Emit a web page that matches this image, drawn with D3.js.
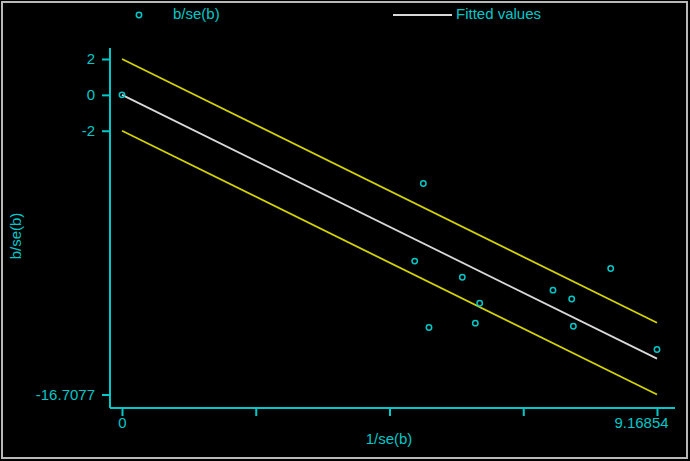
<!DOCTYPE html>
<html><head><meta charset="utf-8">
<script src="https://cdn.jsdelivr.net/npm/d3@7"></script>
<style>html,body{margin:0;padding:0;background:#000;}svg{display:block;}</style>
</head><body>
<svg id="c" width="690" height="461"></svg>
<script>
// Data
const xVals = [0, 5.164, 5.016, 5.261, 5.832, 6.130, 6.055, 7.386, 7.707, 7.735, 8.375, 9.16854];
const yVals = [0, -4.94, -9.27, -12.97, -10.17, -11.62, -12.73, -10.89, -11.38, -12.90, -9.68, -14.20];
const fitX = [0, 9.16854];
const fitY = [0, -14.7077];
const upperY = [2, -12.7077];
const lowerY = [-2, -16.7077];
const yTicks = [2, 0, -2, -16.7077];
const yTickLabels = ["2", "0", "-2", "-16.7077"];
const xTicks = [0, 2.292135, 4.58427, 6.876405, 9.16854];
const xTickLabels = ["0", "", "", "", "9.16854"];

const cyan = "#00c8c8", yellow = "#d2d200", white = "#d8d8d8";
const font = "Liberation Sans, Arial, sans-serif";
const fs = 15;
const svg = d3.select("#c");
svg.append("rect").attr("x",0).attr("y",0).attr("width",690).attr("height",461).attr("fill","#000");
svg.append("rect").attr("x",2).attr("y",2).attr("width",685).attr("height",456)
  .attr("fill","none").attr("stroke","#b8b8b8").attr("stroke-width",2);

const x = d3.scaleLinear().domain([0, 9.16854]).range([122, 657]);
const y = d3.scaleLinear().domain([-16.7077, 2]).range([394.5, 59]);

// axes
const axisX = 110, axisY = 408;
const gy = svg.append("g").attr("transform",`translate(${axisX},0)`)
  .call(d3.axisLeft(y).tickValues(yTicks).tickSize(8).tickPadding(7)
    .tickFormat((d,i)=>yTickLabels[i]));
gy.select(".domain").remove();
gy.append("line").attr("x1",0).attr("x2",0).attr("y1",48).attr("y2",axisY);
const gx = svg.append("g").attr("transform",`translate(0,${axisY})`)
  .call(d3.axisBottom(x).tickValues(xTicks).tickSize(8).tickPadding(1)
    .tickFormat((d,i)=>xTickLabels[i]));
gx.select(".domain").remove();
gx.append("line").attr("x1",axisX).attr("x2",675).attr("y1",0).attr("y2",0);
gx.selectAll(".tick text").filter((d,i)=>i===4).attr("dx",-16);
[gx, gy].forEach(g=>{
  g.selectAll("line").attr("stroke",cyan).attr("stroke-width",2);
  g.selectAll("text").attr("fill",cyan).attr("font-family",font).attr("font-size",fs);
});

// lines
const line = d3.line().x(d=>x(d[0])).y(d=>y(d[1]));
const mk = ys => fitX.map((v,i)=>[v, ys[i]]);
svg.append("path").attr("d",line(mk(upperY))).attr("stroke",yellow).attr("stroke-width",1.8).attr("fill","none");
svg.append("path").attr("d",line(mk(lowerY))).attr("stroke",yellow).attr("stroke-width",1.8).attr("fill","none");
svg.append("path").attr("d",line(mk(fitY))).attr("stroke",white).attr("stroke-width",1.8).attr("fill","none");

// points
svg.append("g").selectAll("circle").data(xVals.map((v,i)=>[v,yVals[i]])).join("circle")
  .attr("cx",d=>x(d[0])).attr("cy",d=>y(d[1])).attr("r",2.7)
  .attr("fill","none").attr("stroke",cyan).attr("stroke-width",1.5);

// titles
svg.append("text").attr("x",389).attr("y",444).attr("text-anchor","middle")
  .attr("fill",cyan).attr("font-family",font).attr("font-size",fs).text("1/se(b)");
svg.append("text").attr("transform","translate(21,236) rotate(-90)").attr("text-anchor","middle")
  .attr("fill",cyan).attr("font-family",font).attr("font-size",fs).text("b/se(b)");

// legend
svg.append("circle").attr("cx",139).attr("cy",15).attr("r",2.7).attr("fill","none").attr("stroke",cyan).attr("stroke-width",1.5);
svg.append("text").attr("x",173).attr("y",19).attr("fill",cyan).attr("font-family",font).attr("font-size",fs).text("b/se(b)");
svg.append("line").attr("x1",393).attr("x2",452).attr("y1",15).attr("y2",15).attr("stroke",white).attr("stroke-width",1.8);
svg.append("text").attr("x",456).attr("y",19).attr("fill",cyan).attr("font-family",font).attr("font-size",fs).text("Fitted values");
</script>
</body></html>
